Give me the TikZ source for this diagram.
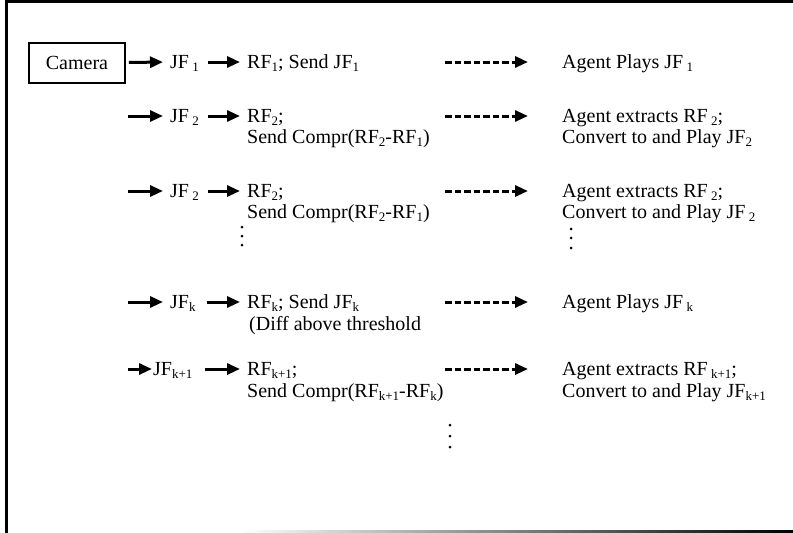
\documentclass[tikz,border=0pt]{standalone}
\usepackage{fontspec}
\setmainfont{Liberation Serif}
\usetikzlibrary{arrows.meta}
\newcommand\sbs[1]{\raisebox{-3pt}{\fontsize{13}{13}\selectfont #1}}
\newcommand\sbg[1]{\,\raisebox{-3pt}{\fontsize{13}{13}\selectfont #1}}
\tikzset{
  lbl/.style={anchor=base west, inner sep=0pt, text height=12pt, text depth=0pt,
    font=\fontsize{20}{21}\selectfont},
  camerabox/.style={draw, line width=1.6pt, minimum width=96pt, minimum height=40pt,
    inner sep=0pt, font=\fontsize{20}{21}\selectfont},
  arr/.style={line width=3pt, -{Triangle[length=13pt,width=11pt]}},
  dasharr/.style={line width=3pt, dash pattern=on 6.5pt off 3pt,
    -{Triangle[length=13pt,width=11pt]}},
  dotc/.style={fill=black, draw=none}
}
\begin{document}
\begin{tikzpicture}[x=1pt,y=-1pt]
\useasboundingbox (0,0) rectangle (793,533);
% frame
\fill[black] (5,0) rectangle (793,3);
\fill[black] (5,0) rectangle (8,533);
\shade[left color=white, right color=black] (240,530.5) rectangle (793,533);

% row 1
\node[camerabox] (cam) at (77,63) {Camera};
\node[lbl] (jf1) at (170,68) {JF\sbg{1}};
\node[lbl] (rf1) at (247,68) {RF\sbs{1}; Send JF\sbs{1}};
\node[lbl] (ag1) at (562,68) {Agent Plays JF\sbg{1}};
\coordinate (ds1) at (445,62);
\draw[arr, shorten <=3pt, shorten >=7pt] (cam) -- (jf1.west);
\draw[arr, shorten <=9pt, shorten >=7pt] (jf1.east) -- (rf1.west);
\draw[dasharr, shorten >=34pt] (ds1) -- (ag1.west);

% row 2
\coordinate (s2) at (128,116);
\node[lbl] (jf2) at (170,122) {JF\sbg{2}};
\node[lbl] (rf2) at (247,122) {RF\sbs{2};};
\node[lbl] (rf2b) at (247,143) {Send Compr(RF\sbs{2}-RF\sbs{1})};
\node[lbl] (ag2) at (562,122) {Agent extracts RF\sbg{2};};
\node[lbl] (ag2b) at (562,143) {Convert to and Play JF\sbs{2}};
\coordinate (ds2) at (445,116);
\draw[arr, shorten >=7pt] (s2) -- (jf2.west);
\draw[arr, shorten <=9pt, shorten >=7pt] (jf2.east) -- (rf2.west);
\draw[dasharr, shorten >=34pt] (ds2) -- (ag2.west);

% row 3
\coordinate (s3) at (128,191);
\node[lbl] (jf3) at (170,197) {JF\sbg{2}};
\node[lbl] (rf3) at (247,197) {RF\sbs{2};};
\node[lbl] (rf3b) at (247,218) {Send Compr(RF\sbs{2}-RF\sbs{1})};
\node[lbl] (ag3) at (562,197) {Agent extracts RF\sbg{2};};
\node[lbl] (ag3b) at (562,218) {Convert to and Play JF\sbg{2}};
\coordinate (ds3) at (445,191);
\draw[arr, shorten >=7pt] (s3) -- (jf3.west);
\draw[arr, shorten <=9pt, shorten >=7pt] (jf3.east) -- (rf3.west);
\draw[dasharr, shorten >=34pt] (ds3) -- (ag3.west);
\foreach \yy in {227,236,245} \fill[dotc] (242,\yy) circle (1.5pt);
\foreach \yy in {229,238,248} \fill[dotc] (571,\yy) circle (1.5pt);

% row 4
\coordinate (s4) at (128,302);
\node[lbl] (jf4) at (170,308) {JF\sbs{k}};
\node[lbl] (rf4) at (247,308) {RF\sbs{k}; Send JF\sbs{k}};
\node[lbl] (rf4b) at (249,330) {(Diff above threshold};
\node[lbl] (ag4) at (562,308) {Agent Plays JF\sbg{k}};
\coordinate (ds4) at (445,302);
\draw[arr, shorten >=7pt] (s4) -- (jf4.west);
\draw[arr, shorten <=11pt, shorten >=7pt] (jf4.east) -- (rf4.west);
\draw[dasharr, shorten >=34pt] (ds4) -- (ag4.west);

% row 5
\coordinate (s5) at (128,369);
\node[lbl] (jf5) at (153,375) {JF\sbs{k+1}};
\node[lbl] (rf5) at (247,375) {RF\sbs{k+1};};
\node[lbl] (rf5b) at (247,397) {Send Compr(RF\sbs{k+1}-RF\sbs{k})};
\node[lbl] (ag5) at (562,375) {Agent extracts RF\sbg{k+1};};
\node[lbl] (ag5b) at (562,397) {Convert to and Play JF\sbs{k+1}};
\coordinate (ds5) at (445,369);
\draw[arr, shorten >=1pt] (s5) -- (jf5.west);
\draw[arr, shorten <=12pt, shorten >=7pt] (jf5.east) -- (rf5.west);
\draw[dasharr, shorten >=34pt] (ds5) -- (ag5.west);
\foreach \yy in {425,436,447} \fill[dotc] (450,\yy) circle (1.5pt);
\end{tikzpicture}
\end{document}
